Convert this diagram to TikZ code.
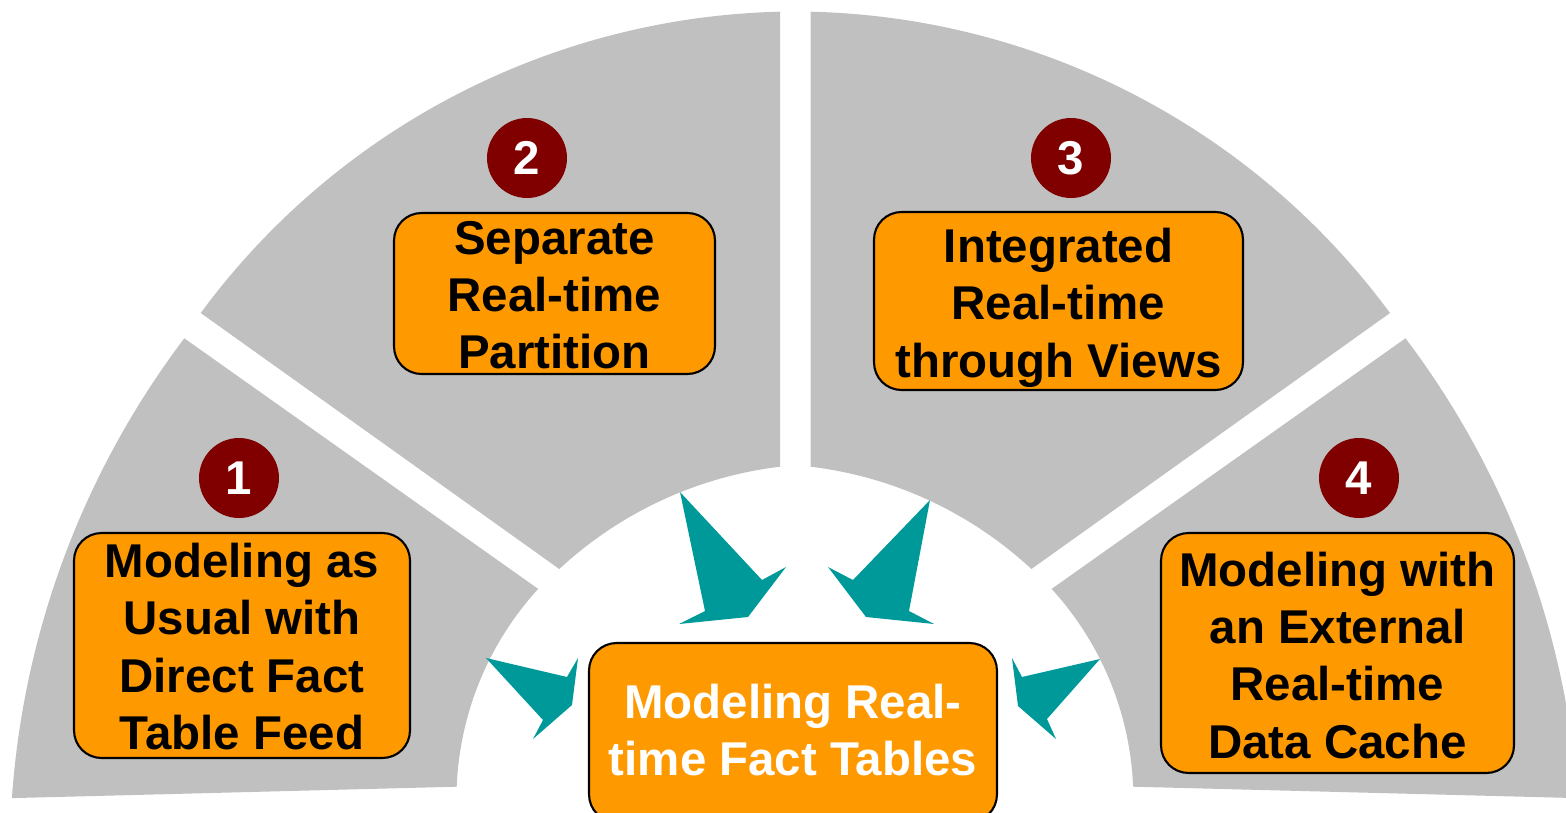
\documentclass[tikz,border=0pt]{standalone}
\usepackage{fontspec}
\setmainfont{Liberation Sans}
\definecolor{sectgray}{HTML}{C0C0C0}
\definecolor{boxorange}{HTML}{FF9900}
\definecolor{numred}{HTML}{800000}
\definecolor{arrowteal}{HTML}{009999}
\tikzset{
  sector/.style={fill=sectgray},
  obox/.style={draw=black, line width=1.2pt, fill=boxorange, rounded corners=0.55cm, inner sep=0pt},
  numdot/.style={circle, fill=numred, minimum size=1.6cm, inner sep=0pt, text=white, font=\fontsize{27}{32}\selectfont\bfseries},
  btext/.style={anchor=base, inner sep=0pt, font=\fontsize{27}{32.7}\selectfont\bfseries},
  blockarrow/.style={fill=arrowteal},
}
\begin{document}
\begin{tikzpicture}[x=0.02cm, y=-0.02cm]
\useasboundingbox (0,0) rectangle (1566,812);
\clip (0,0) rectangle (1566,812);

% ring sectors
\fill[sector] (184.3,338.3) arc[start angle=-142.9, end angle=-176, radius=862] -- (456.7,786.7) arc[start angle=-177.67, end angle=-137.57, radius=312] -- cycle;
\fill[sector] (780,11.7) arc[start angle=-91.36, end angle=-143.6, radius=741.6] -- (559.3,569) arc[start angle=-132.88, end angle=-96.86, radius=393.4] -- cycle;
\fill[sector] (810.7,11.7) arc[start angle=-88.64, end angle=-36.4, radius=741.6] -- (1031.4,569) arc[start angle=-47.12, end angle=-83.14, radius=393.4] -- cycle;
\fill[sector] (1405.5,338.3) arc[start angle=-37.1, end angle=-4, radius=862] -- (1133.1,786.7) arc[start angle=-2.33, end angle=-42.43, radius=312] -- cycle;

% block arrows
\fill[blockarrow] (680,492) -- (762,580) -- (786,567) -- (748,617) -- (679,624) -- (705,611) -- cycle;
\fill[blockarrow] (930,500) -- (853,580) -- (828,567) -- (866,617) -- (934,624) -- (909,611) -- cycle;
\fill[blockarrow] (1100,659) -- (1022,677) -- (1012,658) -- (1018,706) -- (1056,739) -- (1047,719) -- cycle;
\fill[blockarrow] (486,658) -- (567,677) -- (578,658) -- (572,705) -- (533,739) -- (543,720) -- cycle;

% boxes
\node[obox, minimum width=6.72cm, minimum height=4.5cm] (b1) at (242,645.5) {};
\node[obox, minimum width=6.42cm, minimum height=3.22cm] (b2) at (554.5,293.5) {};
\node[obox, minimum width=7.38cm, minimum height=3.56cm] (b3) at (1058.5,301) {};
\node[obox, minimum width=7.06cm, minimum height=4.8cm] (b4) at (1337.5,653) {};
\node[obox, minimum width=8.16cm, minimum height=3.58cm] (bc) at (793,732.5) {};

% numbers
\node[numdot] (n1) at (239,478) {1};
\node[numdot] (n2) at (527,158) {2};
\node[numdot] (n3) at (1071,158) {3};
\node[numdot] (n4) at (1359,478) {4};

% texts
\node[btext] (t1) at (242,577.5) {\begin{tabular}[t]{@{}c@{}}Modeling as\\Usual with\\Direct Fact\\Table Feed\end{tabular}};
\node[btext] (t2) at (554.5,254) {\begin{tabular}[t]{@{}c@{}}Separate\\Real-time\\Partition\end{tabular}};
\node[btext] (t3) at (1058.5,262.5) {\begin{tabular}[t]{@{}c@{}}Integrated\\Real-time\\through Views\end{tabular}};
\node[btext] (t4) at (1337.5,586) {\begin{tabular}[t]{@{}c@{}}Modeling with\\an External\\Real-time\\Data Cache\end{tabular}};
\node[btext, text=white] (tc) at (793,718) {\begin{tabular}[t]{@{}c@{}}Modeling Real-\\time Fact Tables\end{tabular}};
\end{tikzpicture}
\end{document}
